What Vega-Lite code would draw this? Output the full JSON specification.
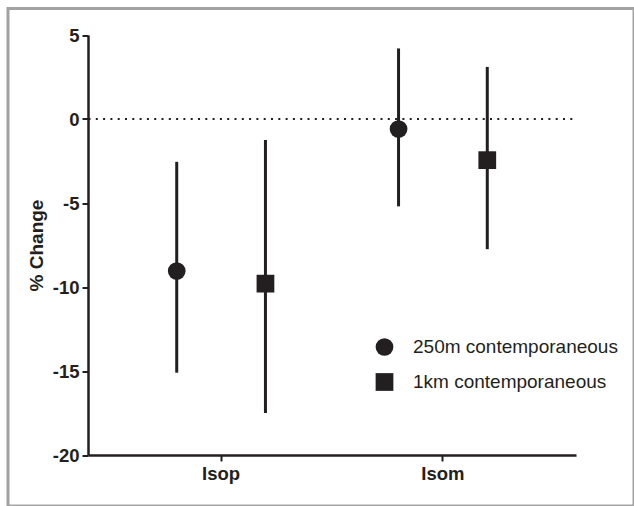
{
  "$schema": "https://vega.github.io/schema/vega-lite/v6.json",
  "width": 626,
  "height": 497.5,
  "autosize": {"type": "none"},
  "padding": {"left": 8, "top": 8.5, "right": 0, "bottom": 0},
  "background": "white",
  "view": {"stroke": "#a3a3a3", "strokeWidth": 3},
  "config": {"font": "Liberation Sans"},
  "data": {
    "values": [
      {"group": "Isop", "series": "250m contemporaneous", "mean": -9.05, "lo": -15.1, "hi": -2.55},
      {"group": "Isop", "series": "1km contemporaneous", "mean": -9.8, "lo": -17.5, "hi": -1.25},
      {"group": "Isom", "series": "250m contemporaneous", "mean": -0.6, "lo": -5.2, "hi": 4.2},
      {"group": "Isom", "series": "1km contemporaneous", "mean": -2.45, "lo": -7.75, "hi": 3.1}
    ]
  },
  "encoding": {
    "x": {
      "field": "group",
      "type": "nominal",
      "scale": {"type": "band", "domain": ["Isop", "Isom"], "range": [80, 568], "paddingInner": 0.2, "paddingOuter": 0.2},
      "axis": {
        "title": null,
        "labelAngle": 0,
        "offset": -51,
        "domainColor": "#231f20",
        "domainWidth": 2.5,
        "tickColor": "#231f20",
        "tickWidth": 2,
        "tickSize": 6,
        "labelFont": "Liberation Sans",
        "labelFontSize": 18.5,
        "labelFontWeight": "bold",
        "labelColor": "#231f20",
        "labelPadding": 3
      }
    },
    "xOffset": {
      "field": "series",
      "type": "nominal",
      "scale": {"type": "point", "domain": ["250m contemporaneous", "1km contemporaneous"], "padding": 0.5}
    }
  },
  "layer": [
    {
      "mark": {"type": "rule", "strokeWidth": 3, "color": "#231f20"},
      "encoding": {
        "y": {
          "field": "lo",
          "type": "quantitative",
          "title": "% Change",
          "scale": {"domain": [-20, 5], "range": [446.5, 26.5], "nice": false, "zero": false},
          "axis": {
            "values": [-20, -15, -10, -5, 0, 5],
            "labelExpr": "datum.value < 0 ? '-' + abs(datum.value) : '' + datum.value",
            "offset": -80,
            "grid": true,
            "gridColor": "#231f20",
            "gridWidth": 2,
            "gridDash": [2, 5.3],
            "gridOpacity": {"condition": {"test": "datum.value === 0", "value": 1}, "value": 0},
            "domainColor": "#231f20",
            "domainWidth": 2.5,
            "tickColor": "#231f20",
            "tickWidth": 2,
            "tickSize": 6,
            "labelFont": "Liberation Sans",
            "labelFontSize": 18.5,
            "labelFontWeight": "bold",
            "labelColor": "#231f20",
            "labelPadding": 3,
            "titleFont": "Liberation Sans",
            "titleFontSize": 19,
            "titleFontWeight": "bold",
            "titleColor": "#231f20",
            "titlePadding": 6
          }
        },
        "y2": {"field": "hi"}
      }
    },
    {
      "mark": {"type": "point", "filled": true, "opacity": 1, "color": "#231f20", "size": 315},
      "encoding": {
        "y": {"field": "mean", "type": "quantitative", "title": "% Change"},
        "shape": {
          "field": "series",
          "type": "nominal",
          "scale": {"domain": ["250m contemporaneous", "1km contemporaneous"], "range": ["circle", "square"]},
          "legend": {
            "orient": "none",
            "legendX": 367,
            "legendY": 329,
            "title": null,
            "padding": 0,
            "labelFont": "Liberation Sans",
            "labelFontSize": 19,
            "labelColor": "#231f20",
            "labelOffset": 19,
            "labelLimit": 400,
            "rowPadding": 15,
            "symbolSize": 315,
            "symbolFillColor": "#231f20",
            "symbolStrokeColor": "#231f20",
            "symbolStrokeWidth": 0,
            "symbolOpacity": 1
          }
        }
      }
    }
  ]
}
